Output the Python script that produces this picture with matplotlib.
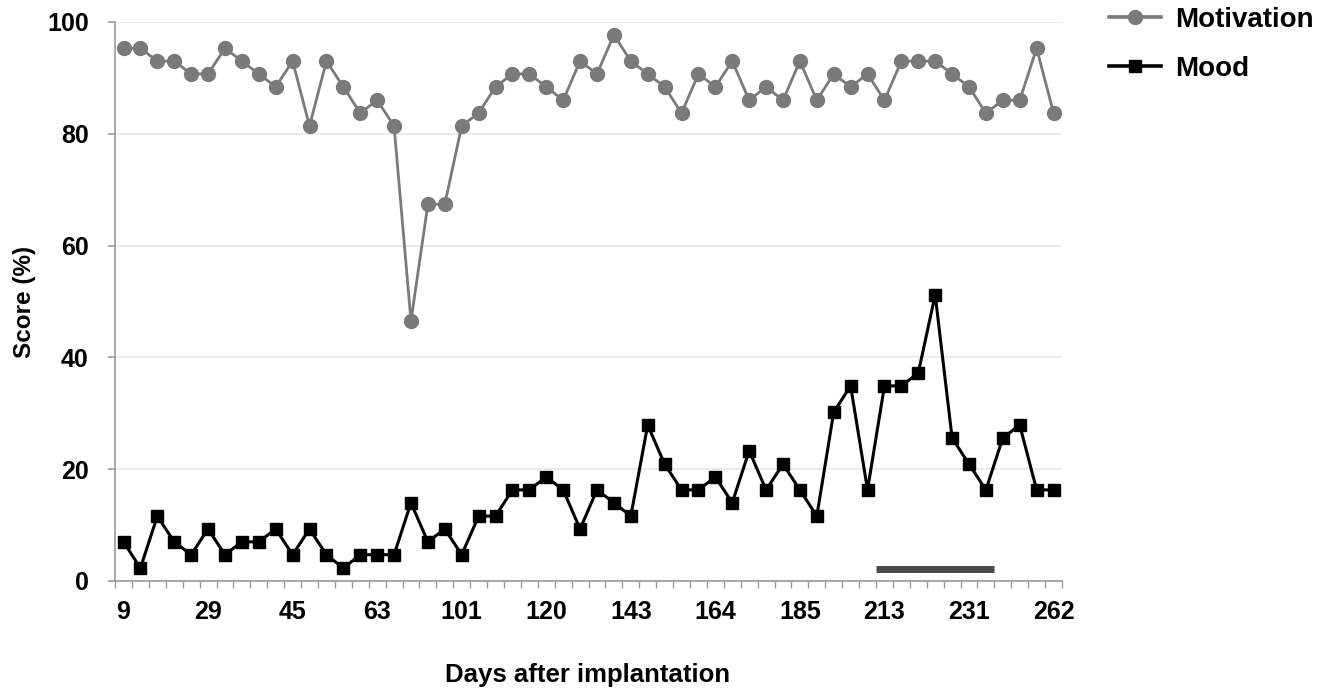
import matplotlib
matplotlib.use("Agg")
import matplotlib.pyplot as plt
import numpy as np

plt.rcParams['font.family'] = ['Liberation Sans', 'DejaVu Sans']
plt.rcParams['font.weight'] = 'bold'

# day labels shown under every 5th category
day_labels = ["9", "29", "45", "63", "101", "120", "143", "164", "185", "213", "231", "262"]

motivation = [95.3, 95.3, 93.0, 93.0, 90.7, 90.7, 95.3, 93.0, 90.7, 88.4,
              93.0, 81.4, 93.0, 88.4, 83.7, 86.0, 81.4, 46.5, 67.4, 67.4,
              81.4, 83.7, 88.4, 90.7, 90.7, 88.4, 86.0, 93.0, 90.7, 97.7,
              93.0, 90.7, 88.4, 83.7, 90.7, 88.4, 93.0, 86.0, 88.4, 86.0,
              93.0, 86.0, 90.7, 88.4, 90.7, 86.0, 93.0, 93.0, 93.0, 90.7,
              88.4, 83.7, 86.0, 86.0, 95.3, 83.7]

mood = [7.0, 2.3, 11.6, 7.0, 4.7, 9.3, 4.7, 7.0, 7.0, 9.3,
        4.7, 9.3, 4.7, 2.3, 4.7, 4.7, 4.7, 14.0, 7.0, 9.3,
        4.7, 11.6, 11.6, 16.3, 16.3, 18.6, 16.3, 9.3, 16.3, 14.0,
        11.6, 27.9, 20.9, 16.3, 16.3, 18.6, 14.0, 23.3, 16.3, 20.9,
        16.3, 11.6, 30.2, 34.9, 16.3, 34.9, 34.9, 37.2, 51.2, 25.6,
        20.9, 16.3, 25.6, 27.9, 16.3, 16.3]

# categories covered by the dark bar near the x axis
bar_first, bar_last = 45, 51

x = np.arange(len(motivation))

fig = plt.figure(figsize=(13.27, 6.91), dpi=100)
ax = fig.add_axes([0.0867, 0.1592, 0.7136, 0.809])

ax.plot(x, motivation, color="#7a7b78", linewidth=2.0, marker="o", markersize=10,
        label="Motivation", zorder=3)
ax.plot(x, mood, color="black", linewidth=2.2, marker="s", markersize=8,
        label="Mood", zorder=3)

ax.plot([bar_first - 0.5, bar_last + 0.5], [2.2, 2.2], color="#4a4a4a",
        linewidth=5, solid_capstyle="butt", zorder=2)

ax.set_xlim(-0.5, len(motivation) - 0.5)
ax.set_ylim(0, 100)

ax.set_yticks([0, 20, 40, 60, 80, 100])
ax.yaxis.grid(True, color="#e8e8e8", linewidth=1.2)
ax.set_axisbelow(True)

ax.set_xticks(x[::5])
ax.set_xticklabels(day_labels)
ax.set_xticks(np.arange(-0.5, len(motivation)), minor=True)
ax.tick_params(axis="x", which="major", length=0, pad=14, labelsize=18)
ax.tick_params(axis="x", which="minor", length=5, width=1, color="#999999")
ax.tick_params(axis="y", length=5, width=1.2, color="#999999", pad=14, labelsize=18)

for s in ["top", "right"]:
    ax.spines[s].set_visible(False)
for s in ["left", "bottom"]:
    ax.spines[s].set_color("#999999")
    ax.spines[s].set_linewidth(1.2)

ax.set_ylabel("Score (%)", fontsize=17.5, fontweight="bold", labelpad=8)
fig.text(0.443, 0.023, "Days after implantation", ha="center", va="center",
         fontsize=18.5, fontweight="bold")

leg = fig.legend(loc="upper left", bbox_to_anchor=(0.836, 0.99), frameon=False,
                 borderpad=0, borderaxespad=0,
                 fontsize=20, handlelength=1.87, handletextpad=0.5, labelspacing=0.82)
for h in leg.legend_handles:
    h.set_linewidth(2.6)

fig.savefig("out.png", dpi=100)
